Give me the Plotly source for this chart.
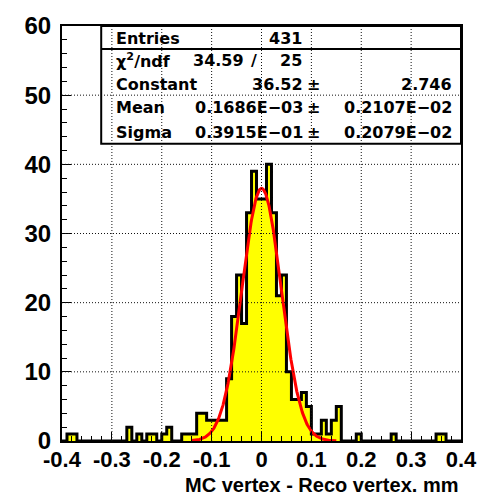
import numpy as np
import plotly.graph_objects as go

# ---------------- data ----------------
x_min, x_max = -0.4, 0.4
counts = [0, 1, 1, 0, 0, 0, 0, 0, 0, 0,
          0, 0, 0, 2, 0, 1, 0, 1, 1, 0,
          1, 2, 0, 0, 1, 1, 1, 4, 4, 3,
          3, 3, 3, 9, 18, 24, 17, 33, 39, 35,
          35, 40, 33, 21, 24, 10, 6, 6, 7, 5,
          1, 1, 3, 1, 3, 5, 0, 0, 0, 1,
          0, 0, 0, 0, 0, 0, 1, 0, 0, 0,
          0, 0, 0, 0, 0, 1, 1, 0, 0, 0]

fit_constant = 36.52
fit_mean = 0.1686e-03
fit_sigma = 0.3915e-01
fit_lo, fit_hi = -0.14, 0.15

x_tick_vals = [-0.4, -0.3, -0.2, -0.1, 0.0, 0.1, 0.2, 0.3, 0.4]
x_tick_text = ["-0.4", "-0.3", "-0.2", "-0.1", "0", "0.1", "0.2", "0.3", "0.4"]
y_tick_vals = [0, 10, 20, 30, 40, 50, 60]
y_tick_text = ["0", "10", "20", "30", "40", "50", "60"]
grid_x = [-0.3, -0.2, -0.1, 0.0, 0.1, 0.2, 0.3]
grid_y = [10, 20, 30, 40, 50]

x_title = "MC vertex - Reco vertex. mm"
stat_entries = "431"
stat_chi2 = "34.59"
stat_ndf = "25"
stat_names = ["Constant", "Mean", "Sigma"]
stat_values = ["36.52", "0.1686E\u221203", "0.3915E\u221201"]
stat_errors = ["2.746", "0.2107E\u221202", "0.2079E\u221202"]

# ---------------- geometry helpers ----------------
W, H = 489, 498
ML, MR, MT, MB = 62, 25, 18, 57
PW, PH = W - ML - MR, H - MT - MB


def pxx(p):
    return (p - ML) / PW


def pxy(p):
    return (H - MB - p) / PH


n_bins = len(counts)
edges = np.linspace(x_min, x_max, n_bins + 1)
step_y = list(counts) + [counts[-1]]

fx = np.linspace(fit_lo, fit_hi, 400)
fy = fit_constant * np.exp(-0.5 * ((fx - fit_mean) / fit_sigma) ** 2)

fig = go.Figure()
fig.add_trace(go.Scatter(x=edges, y=step_y, mode="lines", line_shape="hv",
                         line=dict(color="black", width=3),
                         fill="tozeroy", fillcolor="#ffff00",
                         hoverinfo="skip", showlegend=False))
fig.add_trace(go.Scatter(x=fx, y=fy, mode="lines",
                         line=dict(color="#ff0000", width=3),
                         hoverinfo="skip", showlegend=False))

shapes = []
for gx in grid_x:
    shapes.append(dict(type="line", xref="x", yref="y", x0=gx, x1=gx, y0=0, y1=60,
                       line=dict(color="#111", width=1, dash="1px,2px"), layer="above"))
for gy in grid_y:
    shapes.append(dict(type="line", xref="x", yref="y", x0=x_min, x1=x_max, y0=gy, y1=gy,
                       line=dict(color="#111", width=1, dash="1px,2px"), layer="above"))
# stats box
shapes.append(dict(type="rect", xref="paper", yref="paper",
                   x0=pxx(101.5), x1=1.0, y0=pxy(138), y1=1.0,
                   line=dict(color="black", width=2), fillcolor="rgba(0,0,0,0)", layer="above"))
shapes.append(dict(type="line", xref="paper", yref="paper",
                   x0=pxx(101.5), x1=1.0, y0=pxy(41.5), y1=pxy(41.5),
                   line=dict(color="black", width=2), layer="above"))

sfont = dict(family="DejaVu Sans", size=16, color="black", weight="bold")
ann = []


def txt(s, x, y, anchor):
    ann.append(dict(text=s, xref="paper", yref="paper", x=pxx(x), y=pxy(y),
                    xanchor=anchor, yanchor="middle", showarrow=False, font=sfont))


row_y = [31, 53, 78, 101.5, 126.5]
txt("Entries", 114, row_y[0], "left")
txt(stat_entries, 306, row_y[0], "right")
txt("\u03c7<sup>2</sup>/ndf", 114, row_y[1], "left")
txt(stat_chi2, 192, row_y[1], "left")
txt("/", 255, row_y[1], "center")
txt(stat_ndf, 306, row_y[1], "right")
for i in range(3):
    txt(stat_names[i], 114, row_y[2 + i], "left")
    txt(stat_values[i], 307, row_y[2 + i], "right")
    txt("\u00b1", 315, row_y[2 + i], "center")
    txt(stat_errors[i], 457, row_y[2 + i], "right")

ann.append(dict(text=x_title, xref="paper", yref="paper", x=pxx(463), y=pxy(486),
                xanchor="right", yanchor="middle", showarrow=False,
                font=dict(family="Liberation Sans", size=20, color="black", weight="bold")))

xtickfont = dict(family="Liberation Sans", size=22, color="black", weight="bold")
ytickfont = dict(family="Liberation Sans", size=24, color="black", weight="bold")

fig.update_layout(
    width=W, height=H, margin=dict(l=ML, r=MR, t=MT, b=MB),
    paper_bgcolor="white", plot_bgcolor="white",
    shapes=shapes, annotations=ann, showlegend=False,
    xaxis=dict(range=[x_min, x_max], tickmode="array", tickvals=x_tick_vals, ticktext=x_tick_text,
               ticks="inside", ticklen=9, tickwidth=1, tickcolor="black",
               minor=dict(ticks="inside", ticklen=5, tickwidth=1, tickcolor="black",
                          tickmode="linear", tick0=0, dtick=0.02, showgrid=False),
               showline=True, linewidth=2, linecolor="black", mirror=True,
               showgrid=False, zeroline=False, tickfont=xtickfont, ticklabelstandoff=-2,
               layer="above traces"),
    yaxis=dict(range=[0, 60], tickmode="array", tickvals=y_tick_vals, ticktext=y_tick_text,
               ticks="inside", ticklen=9, tickwidth=1, tickcolor="black",
               minor=dict(ticks="inside", ticklen=5, tickwidth=1, tickcolor="black",
                          tickmode="linear", tick0=0, dtick=2, showgrid=False),
               showline=True, linewidth=2, linecolor="black", mirror=True,
               showgrid=False, zeroline=False, tickfont=ytickfont, ticklabelstandoff=4,
               layer="above traces"),
)

fig.write_html("out.html")
